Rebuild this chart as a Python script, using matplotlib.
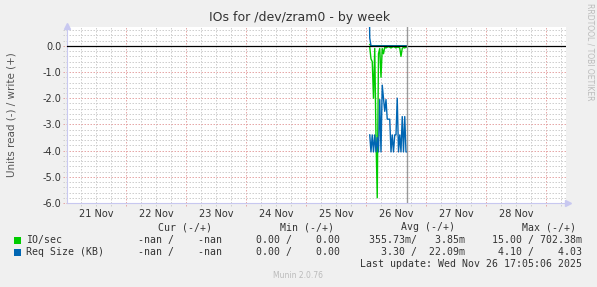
import matplotlib
matplotlib.use("Agg")
import matplotlib.pyplot as plt
import matplotlib.transforms as mtransforms
import numpy as np

# ---------------- data ----------------
title = "IOs for /dev/zram0 - by week"
ylabel = "Units read (-) / write (+)"
day_labels = ["21 Nov", "22 Nov", "23 Nov", "24 Nov", "25 Nov", "26 Nov", "27 Nov", "28 Nov"]
y_ticks = [0.0, -1.0, -2.0, -3.0, -4.0, -5.0, -6.0]
y_tick_labels = ["0.0", "-1.0", "-2.0", "-3.0", "-4.0", "-5.0", "-6.0"]

# hours after 26 Nov 00:00 (30-minute samples)
hours = [1.0, 1.5, 2.0, 2.5, 3.0, 3.5, 4.0, 4.5, 5.0, 5.5, 6.0, 6.5, 7.0, 7.5, 8.0, 8.5,
         9.0, 9.5, 10.0, 10.5, 11.0, 11.5, 12.0, 12.5, 13.0, 13.5, 14.0, 14.5, 15.0,
         15.5, 16.0, 16.5]
io_read = [np.nan, 0.05, 0.5, 0.6, 2.0, 0.1, 3.5, 5.8, 0.3, 0.1, 1.2, 0.1, 0.3, 0.05, 0.08,
           0.05, 0.03, 0.05, 0.08, 0.05, 0.03, 0.05, 0.08, 0.05, 0.05, 0.08, 0.4, 0.1,
           0.05, 0.08, 0.05, 0.05]
io_write = [np.nan, 0.05, 0.0, 0.0, 0.0, 0.0, 0.0, 0.0, 0.0, 0.0, 0.0, 0.0, 0.0, 0.0, 0.0,
            0.0, 0.0, 0.0, 0.0, 0.0, 0.0, 0.0, 0.0, 0.0, 0.0, 0.0, 0.0, 0.0, 0.0, 0.0,
            0.0, 0.0]
req_read = [np.nan, 3.4, 4.05, 3.4, 4.05, 3.4, 4.05, 3.5, 4.05, 2.05, 4.05, 1.5, 2.0, 2.5,
            2.05, 2.8, 2.8, 2.8, 4.05, 3.4, 4.05, 3.4, 3.4, 2.0, 4.05, 3.4, 4.05, 2.7,
            4.05, 2.7, 4.05, 4.05]
req_write = [4.03, 0.3, 0.0, 0.0, 0.0, 0.0, 0.0, 0.0, 0.0, 0.0, 0.0, 0.0, 0.0, 0.0, 0.0,
             0.0, 0.0, 0.0, 0.0, 0.0, 0.0, 0.0, 0.0, 0.0, 0.0, 0.0, 0.0, 0.0, 0.0, 0.0,
             0.0, 0.0]
now_day = 5.685  # days after 21 Nov 00:00 (last update line)

legend_header = ["Cur (-/+)", "Min (-/+)", "Avg (-/+)", "Max (-/+)"]
legend_rows = [
    ("IO/sec", "#00CC00", ["-nan /    -nan", "0.00 /    0.00", "355.73m/   3.85m", "15.00 / 702.38m"]),
    ("Req Size (KB)", "#0066B3", ["-nan /    -nan", "0.00 /    0.00", "3.30 /  22.09m", "4.10 /    4.03"]),
]
last_update = "Last update: Wed Nov 26 17:05:06 2025"
footer = "Munin 2.0.76"
side_text = "RRDTOOL / TOBI OETIKER"

# ---------------- figure ----------------
W, H = 597, 287
fig = plt.figure(figsize=(W / 100, H / 100), dpi=100, facecolor="#F0F0F0")
L, R, T, B = 67, 566, 27, 203
ax = fig.add_axes([L / W, 1 - B / H, (R - L) / W, (B - T) / H])
ax.set_facecolor("white")
x0, x1 = 0.017, (R - 66) / 60.0
ax.set_xlim(x0, x1)
ax.set_ylim(-6.0, 0.72)

for s in ["top", "right"]:
    ax.spines[s].set_visible(False)
for s in ["left", "bottom"]:
    ax.spines[s].set_color("#C8C8F0")
    ax.spines[s].set_linewidth(0.8)

# grid
trans_x = mtransforms.blended_transform_factory(ax.transData, ax.transAxes)
trans_y = mtransforms.blended_transform_factory(ax.transAxes, ax.transData)
dot = (0, (1.5, 1.5))
minor_c = "#CFCFCF"
major_c = "#E6A8A8"
for q in np.arange(0.25, x1, 0.25):
    if abs(q - round(q)) < 1e-6:
        continue
    ax.plot([q, q], [-0.015, 1.0], transform=trans_x, color=minor_c, lw=0.72,
            ls=dot, clip_on=False, zorder=1)
for d in range(1, 9):
    ax.plot([d, d], [-0.015, 1.0], transform=trans_x, color=major_c, lw=0.72,
            ls=dot, clip_on=False, zorder=1)
for yv in np.arange(-6.0, 0.72, 0.2):
    if abs(yv - round(yv)) < 1e-6:
        continue
    ax.plot([-0.008, 1.0], [yv, yv], transform=trans_y, color=minor_c, lw=0.72,
            ls=dot, clip_on=False, zorder=1)
for yv in y_ticks:
    ax.plot([-0.008, 1.0], [yv, yv], transform=trans_y, color=major_c, lw=0.72,
            ls=dot, clip_on=False, zorder=1)

# ticks / labels
ax.set_xticks([d + 0.5 for d in range(len(day_labels))])
ax.set_xticklabels(day_labels)
ax.set_yticks(y_ticks)
ax.set_yticklabels(y_tick_labels)
ax.tick_params(length=0, labelsize=7, colors="#333333", pad=4)

# data
t = [5 + h / 24.0 for h in hours]
ax.plot(t, [-v for v in io_read], color="#00CC00", lw=1.0, zorder=3)
ax.plot(t, io_write, color="#00CC00", lw=1.0, zorder=3)
ax.plot(t, [-v for v in req_read], color="#0066B3", lw=1.0, zorder=4)
ax.plot(t, req_write, color="#0066B3", lw=1.0, zorder=4)
ax.axhline(0, color="black", lw=0.9, zorder=5)
ax.axvline(now_day, color="#999999", lw=1.0, zorder=5)

# arrows on axes
ax.plot([x1 + 0.03], [-6.0], marker=">", ms=4, color="#C8C8F0", clip_on=False, zorder=6)
ax.plot([x0], [0.72 + 0.03], marker="^", ms=4, color="#C8C8F0", clip_on=False, zorder=6)

# texts
fig.text(300 / W, 1 - 18 / H, title, ha="center", va="center", fontsize=9, color="#333333")
fig.text(12 / W, 1 - 115 / H, ylabel, rotation=90, ha="center", va="center",
         fontsize=7.5, color="#555555")
fig.text(590 / W, 1 - 52 / H, side_text, rotation=270, ha="center", va="center",
         fontsize=5.5, color="#BBBBBB")

mono = "DejaVu Sans Mono"
fs = 7.1
header_right = [212, 334, 455, 576]
for txt, xr in zip(legend_header, header_right):
    fig.text(xr / W, 1 - 227 / H, txt, ha="right", va="center", fontsize=fs,
             family=mono, color="#333333")
val_right = [222, 340, 465, 582]
for i, (name, col, vals) in enumerate(legend_rows):
    yy = 240 + 12 * i
    fig.patches.append(plt.Rectangle((14 / W, 1 - (yy + 3.5) / H), 6.5 / W, 6.5 / H,
                                     transform=fig.transFigure, facecolor=col,
                                     edgecolor="none"))
    fig.text(26 / W, 1 - yy / H, name, ha="left", va="center", fontsize=fs,
             family=mono, color="#333333")
    for v, xr in zip(vals, val_right):
        fig.text(xr / W, 1 - yy / H, v, ha="right", va="center", fontsize=fs,
                 family=mono, color="#333333")
fig.text(582 / W, 1 - 264 / H, last_update, ha="right", va="center", fontsize=fs,
         family=mono, color="#333333")
fig.text(298 / W, 1 - 276 / H, footer, ha="center", va="center", fontsize=5.5,
         color="#BBBBBB")

fig.savefig("out.png", dpi=100, facecolor=fig.get_facecolor())
